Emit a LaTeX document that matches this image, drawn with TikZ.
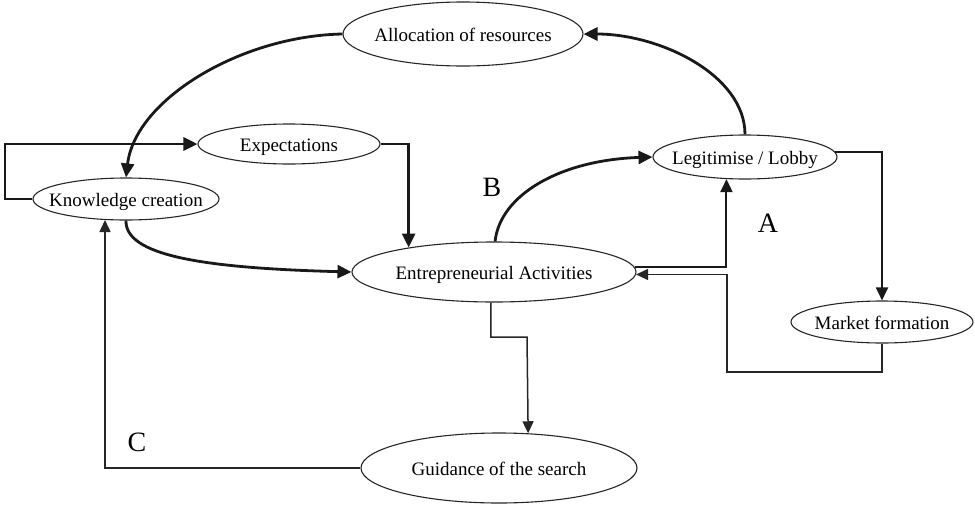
\documentclass[tikz,border=0pt]{standalone}
\usepackage{fontspec}
\setmainfont{Liberation Serif}
\usetikzlibrary{shapes.geometric,arrows.meta}
\newcommand{\ztxt}[1]{\makebox[0pt]{#1}}
\begin{document}
\begin{tikzpicture}[x=1pt,y=-1pt,
  ell/.style={draw=black!85, ellipse, inner sep=0pt, line width=1.1pt, text height=16pt, text depth=1pt, font=\fontsize{19}{22}\selectfont},
  thk/.style={draw=black!90, line width=2.8pt, -{Triangle[length=14pt,width=13pt]}},
  med/.style={draw=black!90, line width=2pt, -{Triangle[length=13pt,width=12pt]}},
  thn/.style={draw=black!85, line width=1.5pt, -{Triangle[length=12pt,width=11pt]}},
  lab/.style={font=\fontsize{28}{30}\selectfont}]
\useasboundingbox (0,0) rectangle (975,504);

\node[ell, minimum width=240pt, minimum height=64pt] (alloc) at (463,34) {\ztxt{Allocation of resources}};
\node[ell, minimum width=182pt, minimum height=40pt] (exp) at (289,144) {\ztxt{Expectations}};
\node[ell, minimum width=186pt, minimum height=42pt] (kc) at (126,199) {\ztxt{Knowledge creation}};
\node[ell, minimum width=184pt, minimum height=44pt] (leg) at (745,157) {\ztxt{Legitimise / Lobby}};
\node[ell, minimum width=284pt, minimum height=60pt] (ea) at (494,272) {\ztxt{Entrepreneurial Activities}};
\node[ell, minimum width=182pt, minimum height=42pt] (mkt) at (882,322) {\ztxt{Market formation}};
\node[ell, minimum width=276pt, minimum height=70pt] (gui) at (499,468) {\ztxt{Guidance of the search}};

\node[lab] (B) at (492,187) {B};
\node[lab] (A) at (768,223) {A};
\node[lab] (C) at (137,442) {C};

% thick curved arrows
\draw[thk] (alloc.west) .. controls (240,36) and (135,100) .. (kc.north);
\draw[thk] (leg.north) .. controls (745,75) and (660,34) .. (alloc.east);
\draw[thk] (ea.88) .. controls (500,195) and (560,160) .. (leg.west);
\draw[thk] (kc.south) .. controls (125,255) and (200,268) .. (ea.west);

% thick orthogonal arrows
\coordinate (lp) at (5,199);
\draw[thk] (kc.west) -- (lp) |- (exp.west);
\draw[thk] (exp.east) -| (ea.164.8);

% medium orthogonal arrows
\draw[med] (ea.2) -| (leg.230.2);
\draw[med] (leg.3) -| (mkt.north);

% thin orthogonal arrows
\coordinate (r1) at (727,372);
\draw[thn] (mkt.south) |- (r1) |- (ea.-1.6);
\coordinate (s1) at (527,337);
\draw[thn] (ea.264) |- (s1) -- (gui.50.8);
\draw[thn] (gui.west) -| (kc.225.7);
\end{tikzpicture}
\end{document}
